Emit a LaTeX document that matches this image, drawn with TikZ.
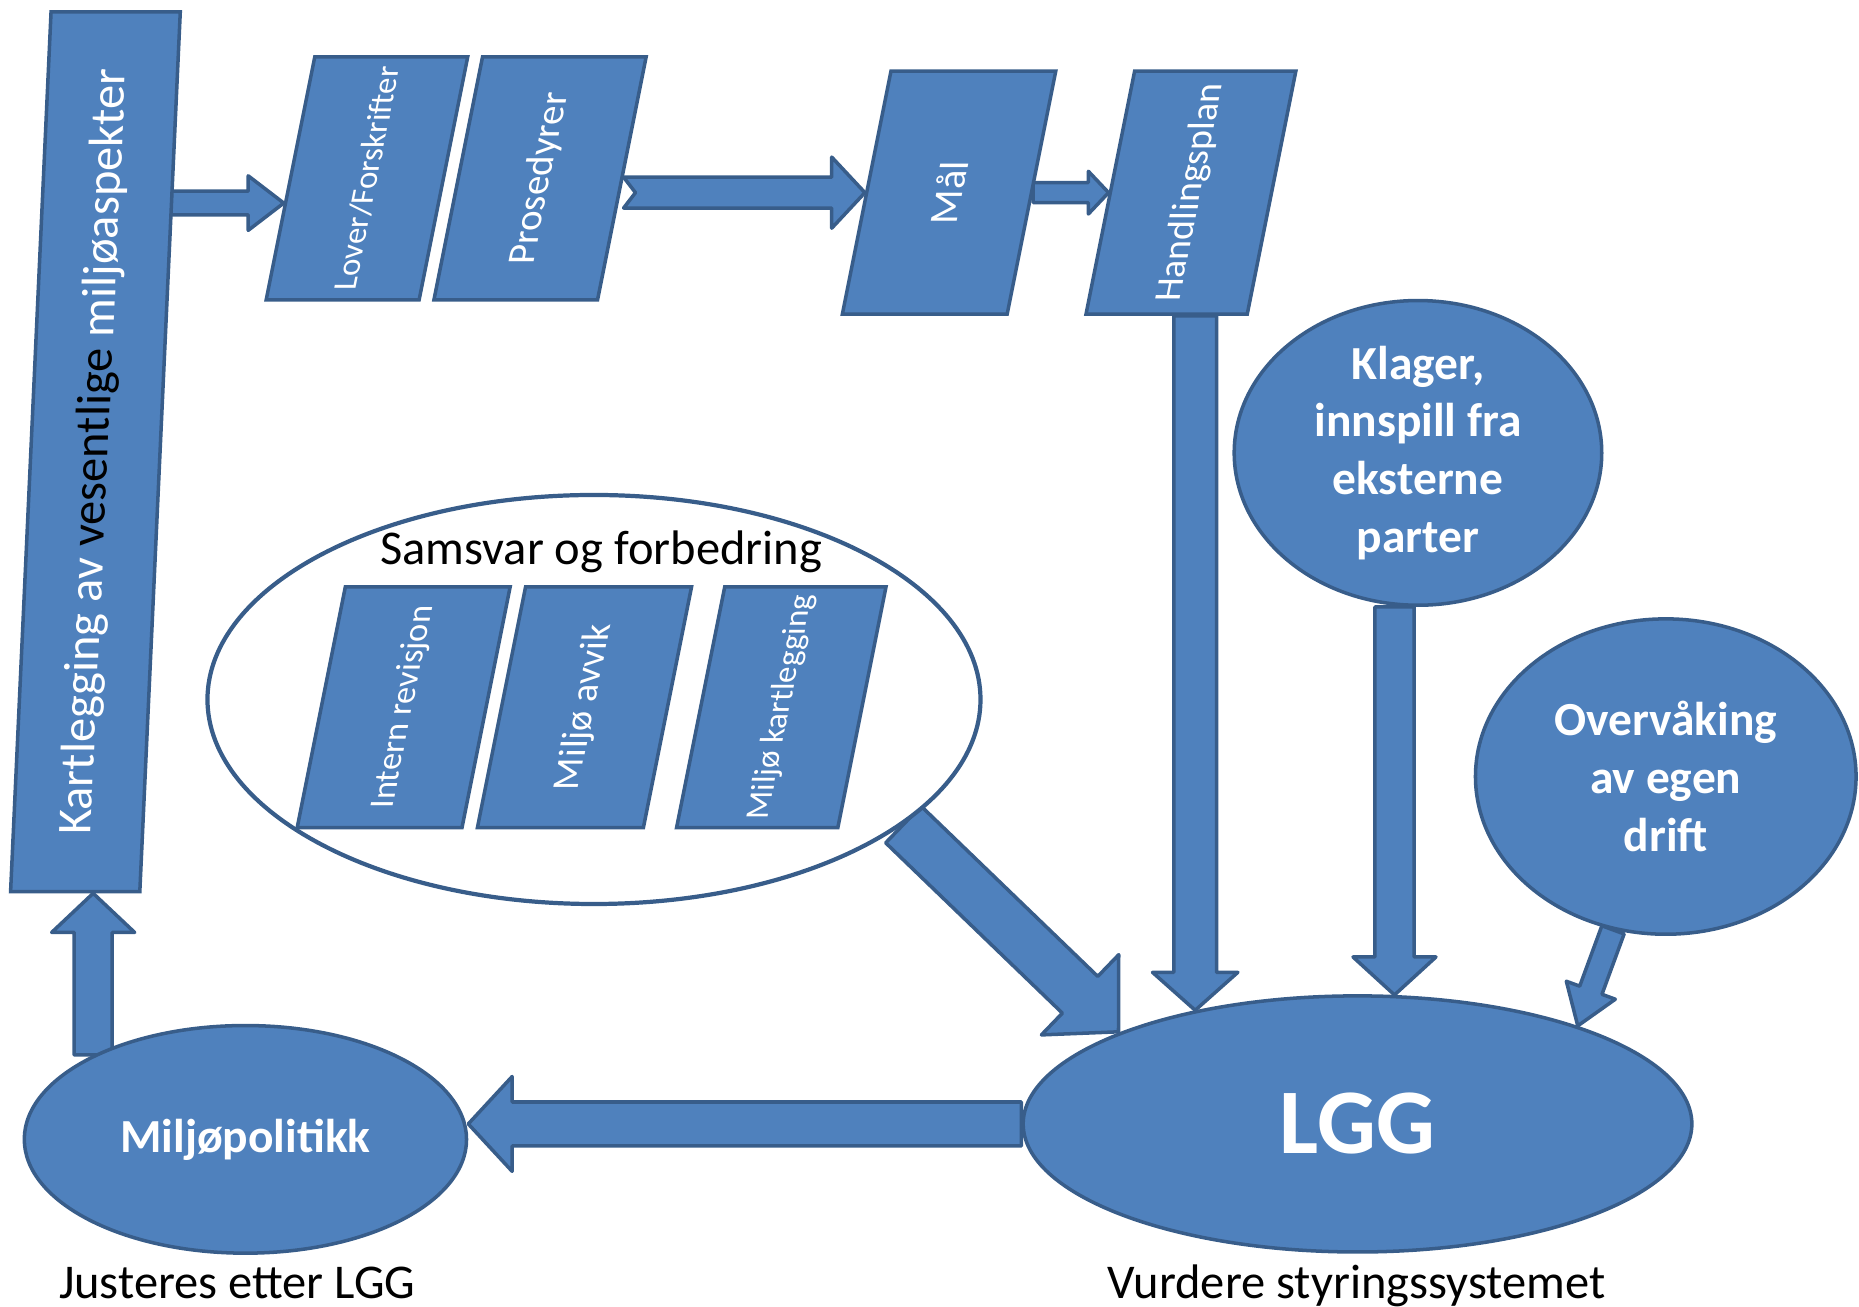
\documentclass[tikz,border=0pt]{standalone}
\usepackage{fontspec}
\setmainfont{Carlito}
\usetikzlibrary{calc,shapes.geometric,backgrounds}

\definecolor{lggblue}{RGB}{79,129,189}
\definecolor{lggedge}{RGB}{56,93,138}

\newcommand{\pxu}{0.011856cm}
\newcommand{\blockarrow}[6][0]{%
  \draw[bigarrow] let \p1=(#2), \p2=(#3),
    \n1={atan2(\y2-\y1,\x2-\x1)}, \n2={veclen(\x2-\x1,\y2-\y1)} in
    [shift={(\p1)}, rotate=\n1]
    (0pt,{-#4*\pxu}) -- ({\n2-#6*\pxu},{-#4*\pxu}) -- ({\n2-#6*\pxu},{-#5*\pxu})
    -- ({\n2*1pt},0pt) -- ({\n2-#6*\pxu},{#5*\pxu}) -- ({\n2-#6*\pxu},{#4*\pxu})
    -- (0pt,{#4*\pxu}) -- ({#1*\pxu},0pt) -- cycle;
}

\begin{document}
\begin{tikzpicture}[x=\pxu, y=-\pxu,
  lggbox/.style={fill=lggblue, draw=lggedge, line width=1pt, text=white, inner sep=0pt},
  parbox/.style={lggbox, rectangle, xslant=0.2, rotate=90, transform shape, minimum width=205*\pxu},
  lggblob/.style={lggbox, ellipse, align=center, font=\bfseries\fontsize{13.5}{16.4}\selectfont},
  lggcap/.style={anchor=base, font=\fontsize{13.8}{16}\selectfont},
  bigarrow/.style={fill=lggblue, draw=lggedge, line width=1pt, line join=round}]

\useasboundingbox (0,0) rectangle (1568,1102);

\node[lggbox, xslant=0.046, rotate=90, transform shape, minimum width=742*\pxu, minimum height=109*\pxu,
  font=\fontsize{13.8}{16}\selectfont] (bar) at (80.5,381) {Kartlegging av \textcolor{black}{vesentlige} miljøaspekter};

\node[parbox, minimum height=129*\pxu, font=\fontsize{9.4}{11}\selectfont] (lover) at (309.5,150.5) {Lover/Forskrifter};
\node[parbox, minimum height=138*\pxu, font=\fontsize{11.1}{13}\selectfont] (pros) at (455.5,150.5) {Prosedyrer};
\node[parbox, minimum height=139*\pxu, font=\fontsize{11.5}{13}\selectfont] (mal) at (800.5,162.5) {Mål};
\node[parbox, minimum height=136*\pxu, font=\fontsize{10.8}{13}\selectfont] (hand) at (1004.5,162.5) {Handlingsplan};

\node[lggbox, ellipse, fill=white, line width=1.2pt, minimum width=652*\pxu, minimum height=345*\pxu] (samsvar) at (501,590) {};
\node[lggcap] (samsvartitle) at (507,476) {Samsvar og forbedring};
\node[parbox, minimum width=203*\pxu, minimum height=139*\pxu, font=\fontsize{9.8}{12}\selectfont] (intern) at (340.5,596.5) {Intern revisjon};
\node[parbox, minimum width=203*\pxu, minimum height=140*\pxu, font=\fontsize{10.8}{13}\selectfont] (avvik) at (493,596.5) {Miljø avvik};
\node[parbox, minimum width=203*\pxu, minimum height=136*\pxu, font=\fontsize{9.4}{11}\selectfont] (kartl) at (659,596.5) {Miljø kartlegging};

\node[lggblob, minimum width=310*\pxu, minimum height=257*\pxu] (klager) at (1196,382) {Klager,\\innspill fra\\eksterne\\parter};
\node[lggblob, minimum width=321*\pxu, minimum height=266*\pxu] (overv) at (1405,655) {Overvåking\\av egen\\drift};
\node[lggblob, minimum width=564*\pxu, minimum height=216*\pxu, font=\bfseries\fontsize{26.3}{30}\selectfont] (lgg) at (1145,948) {LGG};
\node[lggblob, minimum width=373*\pxu, minimum height=192*\pxu] (politikk) at (207,961) {Miljøpolitikk};

\node[lggcap] (justeres) at (200,1095) {Justeres etter LGG};
\node[lggcap] (vurdere) at (1144,1095) {Vurdere styringssystemet};

\begin{scope}[on background layer]
\coordinate (lovin) at ($(lover.north west)!0.4!(lover.north east)$);
\blockarrow{bar.south |- lovin}{lovin}{10}{23}{30}
\blockarrow[10]{pros.south |- mal.north}{mal.north}{13}{30}{28}
\blockarrow{mal.south}{hand.north}{8.5}{18}{17}
\blockarrow{lgg.145 |- hand.west}{lgg.145}{18}{36}{32}
\blockarrow{lgg.74 |- klager.south}{lgg.74}{16.5}{35}{32}
\blockarrow{overv.251}{lgg.24}{10}{22}{32}
\blockarrow{samsvar.-22}{lgg.159}{21.5}{47}{45}
\blockarrow{lgg.west}{lgg.west -| politikk.east}{18.5}{40}{37}
\blockarrow{politikk.151}{politikk.151 |- bar.west}{16}{35}{33}
\end{scope}
\end{tikzpicture}
\end{document}
